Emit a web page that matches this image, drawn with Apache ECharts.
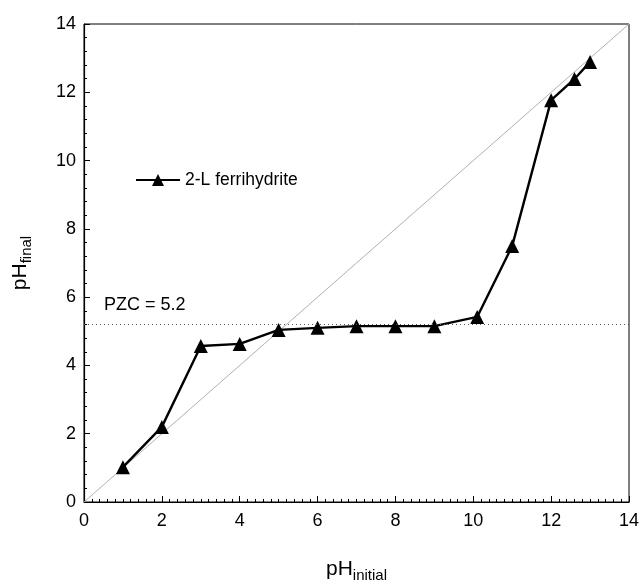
<!DOCTYPE html>
<html><head><meta charset="utf-8">
<script src="https://cdn.jsdelivr.net/npm/echarts@6/dist/echarts.min.js"></script>
<style>html,body{margin:0;padding:0;background:#fff}#c{width:639px;height:581px}</style>
</head><body><div id="c"></div>
<script>
const phInitial = [1, 2, 3, 4, 5, 6, 7, 8, 9, 10.1, 11, 12, 12.6, 13];
const phFinal = [1.02, 2.2, 4.57, 4.63, 5.04, 5.1, 5.15, 5.15, 5.15, 5.42, 7.5, 11.77, 12.39, 12.89];
const diagonal = [[0, 0], [14, 14]];
const pzc = 5.2;
const seriesName = '2-L ferrihydrite';

const chart = echarts.init(document.getElementById('c'));
const font = 'Liberation Sans, Arial, sans-serif';
chart.setOption({
  animation: false,
  grid: {left: 84, top: 24, right: 10, bottom: 79, outerBoundsMode: 'none', containLabel: false, show: true, borderColor: '#000', borderWidth: 1, backgroundColor: 'transparent'},
  legend: {
    left: 130, top: 166, data: [seriesName], itemWidth: 44, itemHeight: 15, itemGap: 8,
    textStyle: {fontFamily: font, fontSize: 17.5, color: '#000'}
  },
  xAxis: {
    type: 'value', min: 0, max: 14, interval: 2,
    name: 'pH{sub|initial}', nameLocation: 'middle', nameGap: 54,
    nameTextStyle: {fontFamily: font, fontSize: 21, color: '#000', rich: {sub: {fontFamily: font, fontSize: 15, padding: [12, 0, 0, 0]}}},
    axisLine: {lineStyle: {color: '#000', width: 1.2}},
    axisTick: {inside: true, length: 6, lineStyle: {color: '#000'}},
    minorTick: {show: true, splitNumber: 10, length: 3, lineStyle: {color: '#000'}},
    axisLabel: {fontFamily: font, fontSize: 18, color: '#000', margin: 10},
    splitLine: {show: false}
  },
  yAxis: {
    type: 'value', min: 0, max: 14, interval: 2,
    name: 'pH{sub|final}', nameLocation: 'middle', nameGap: 50, nameRotate: 90,
    nameTextStyle: {fontFamily: font, fontSize: 21, color: '#000', rich: {sub: {fontFamily: font, fontSize: 15, padding: [12, 0, 0, 0]}}},
    axisLine: {lineStyle: {color: '#000', width: 1.2}},
    axisTick: {inside: true, length: 6, lineStyle: {color: '#000'}},
    minorTick: {show: true, splitNumber: 5, length: 3, lineStyle: {color: '#000'}},
    axisLabel: {fontFamily: font, fontSize: 18, color: '#000', margin: 8},
    splitLine: {show: false}
  },
  series: [
    {
      type: 'line', data: diagonal, symbol: 'none', silent: true,
      lineStyle: {color: '#b0b0b0', width: 1},
      markLine: {
        silent: true, symbol: 'none',
        lineStyle: {color: '#555', type: [1, 3], width: 1},
        label: {show: true, position: 'insideStartTop', formatter: 'PZC = ' + pzc, fontFamily: font, fontSize: 18, color: '#000', distance: [20, 10]},
        data: [{yAxis: pzc}]
      }
    },
    {
      name: seriesName, type: 'line',
      data: phInitial.map((x, i) => [x, phFinal[i]]),
      symbol: 'triangle', symbolSize: 14,
      itemStyle: {color: '#000'},
      lineStyle: {color: '#000', width: 2.4}
    }
  ]
});
</script></body></html>
